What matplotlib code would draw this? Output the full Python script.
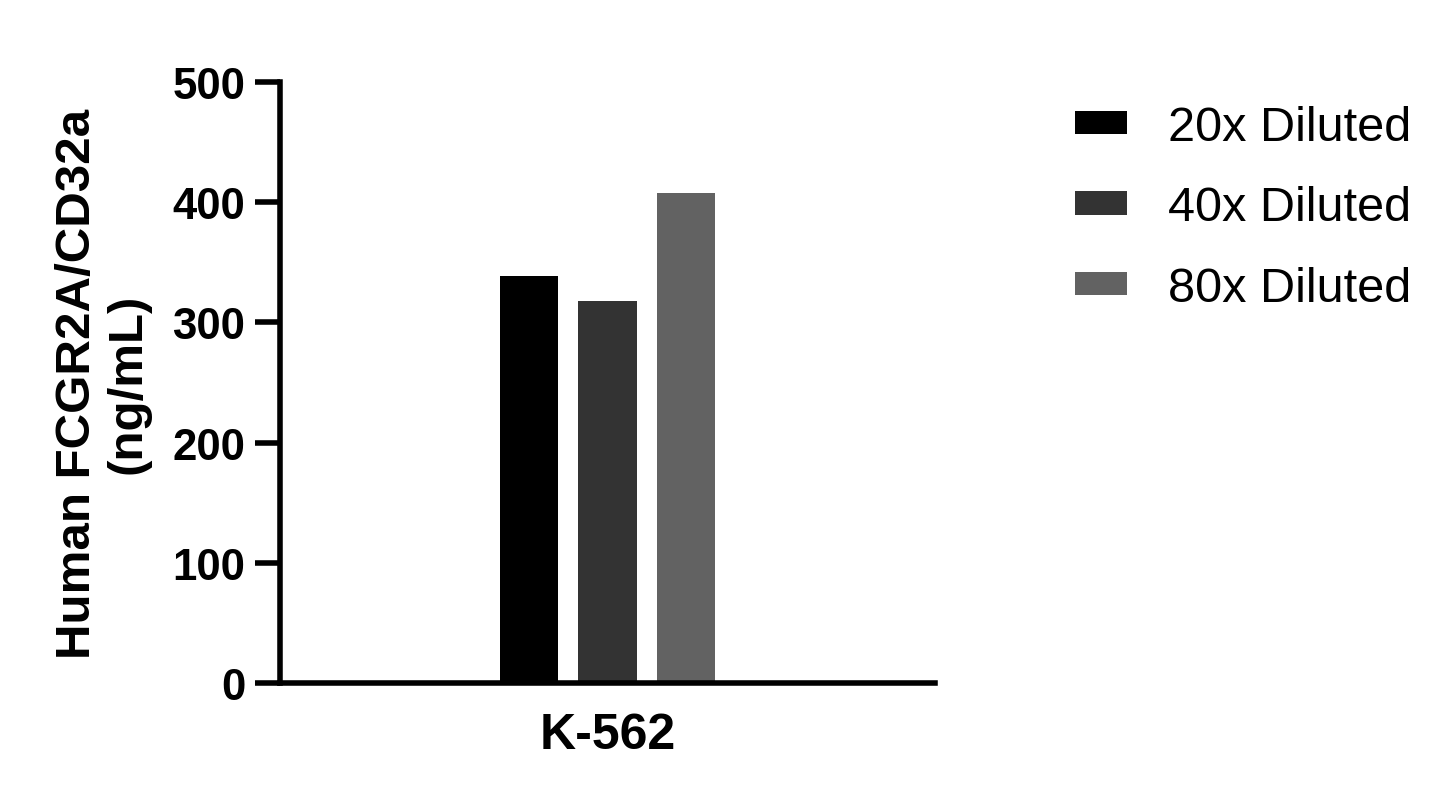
import matplotlib
matplotlib.use("Agg")
from matplotlib import pyplot as plt
import numpy as np

plt.rcParams['font.family'] = ['Liberation Sans', 'DejaVu Sans']

# data
group = "K-562"
series = ["20x Diluted", "40x Diluted", "80x Diluted"]
values = [339, 318, 408]
colors = ["#000000", "#333333", "#626262"]

W, H = 1451, 804
fig = plt.figure(figsize=(W / 100, H / 100), dpi=100)
ax = fig.add_axes([280 / W, 1 - 684 / H, (935 - 280) / W, (684 - 83) / H])

offsets = np.arange(len(series)) - 1
for off, v, c, lab in zip(offsets, values, colors, series):
    ax.bar(off, v, width=0.75, color=c, label=lab, linewidth=0)

# 78.5 px per bar step, axes ~655 px wide
half = 655 / 78.5 / 2
ax.set_xlim(-half, half)
ax.set_ylim(0, 500)
ax.set_yticks([0, 100, 200, 300, 400, 500])
ax.set_xticks([0])
ax.set_xticklabels([group])

for s in ["top", "right"]:
    ax.spines[s].set_visible(False)
for s in ["left", "bottom"]:
    ax.spines[s].set_linewidth(4)
    ax.spines[s].set_capstyle("projecting")

ax.tick_params(axis="y", length=18, width=4, pad=7, labelsize=31.5)
ax.tick_params(axis="x", length=0, pad=21, labelsize=36)
for t in ax.get_yticklabels() + ax.get_xticklabels():
    t.set_fontweight("bold")

ax.set_ylabel("Human FCGR2A/CD32a\n(ng/mL)", fontsize=35.5, fontweight="bold",
              labelpad=16, linespacing=1.15)

ax.legend(loc="upper left", bbox_to_anchor=(1075 / W, 1 - 106 / H),
          bbox_transform=fig.transFigure, frameon=False, fontsize=35,
          handlelength=1.07, handleheight=0.37, handletextpad=0.84,
          labelspacing=0.73, borderaxespad=0, borderpad=0)

fig.savefig("out.png", dpi=100)
